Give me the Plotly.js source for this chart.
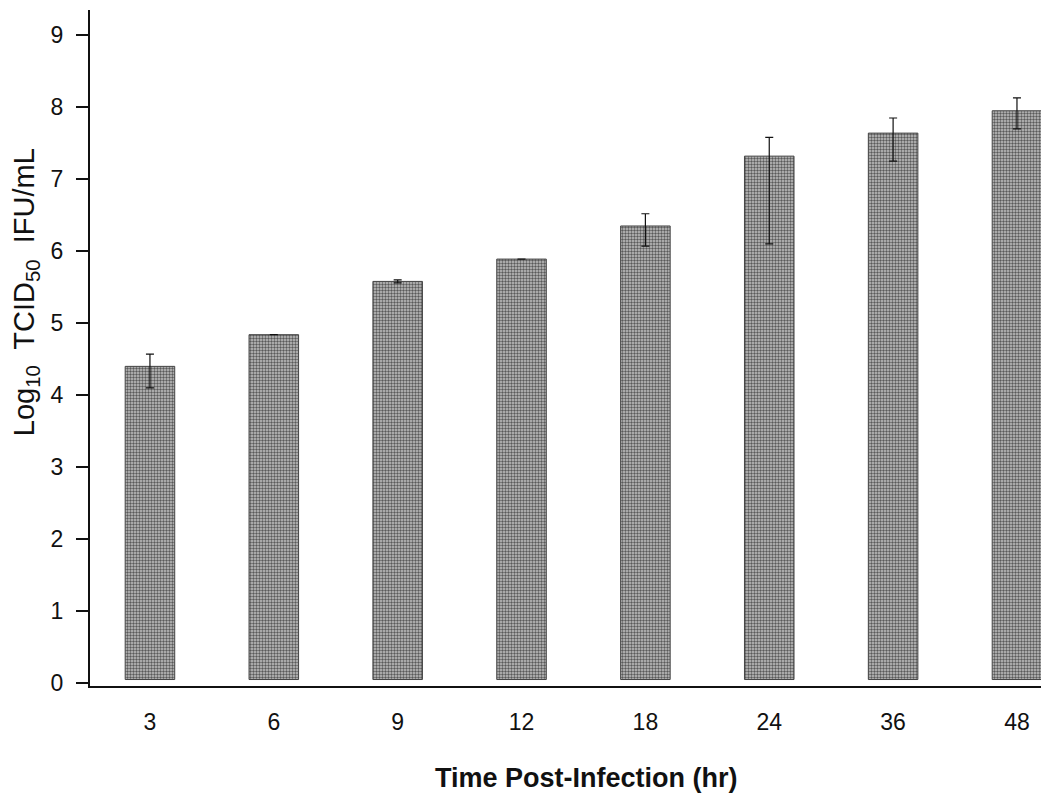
<!DOCTYPE html>
<html>
<head>
<meta charset="utf-8">
<script src="https://cdn.plot.ly/plotly-3.0.1.min.js"></script>
<style>
  html, body { margin: 0; padding: 0; background: #fff; overflow: hidden; }
  #chart { width: 1041px; height: 796px; }
</style>
</head>
<body>
<div id="chart"></div>
<script>
const categories = ['3', '6', '9', '12', '18', '24', '36', '48'];
const titerValues = [4.40, 4.84, 5.58, 5.89, 6.35, 7.32, 7.64, 7.95];
const errorPlus = [0.17, 0, 0.02, 0, 0.17, 0.26, 0.21, 0.18];
const errorMinus = [0.30, 0, 0.02, 0, 0.28, 1.22, 0.39, 0.25];
const yTickValues = [0, 1, 2, 3, 4, 5, 6, 7, 8, 9];
const xTitleText = '<b>Time Post-Infection (hr)</b>';
const yTitleText = 'Log<sub>10</sub>&nbsp; TCID<sub>50</sub>&nbsp; IFU/mL';

const trace = {
  type: 'bar',
  x: categories,
  y: titerValues.map(v => v - 0.05),
  base: 0.05,
  width: 0.4,
  marker: {
    color: '#adadad',
    line: { color: '#444', width: 1 },
    pattern: { shape: '.', fgcolor: '#5a5a5a', bgcolor: '#c4c4c4', size: 3, solidity: 0.5 }
  },
  error_y: {
    type: 'data',
    symmetric: false,
    array: errorPlus,
    arrayminus: errorMinus,
    color: '#111',
    thickness: 1.2,
    width: 4
  },
  hoverinfo: 'x+y'
};

const layout = {
  width: 1041,
  height: 796,
  margin: { l: 90, r: 0, t: 10, b: 110 },
  paper_bgcolor: '#fff',
  plot_bgcolor: '#fff',
  showlegend: false,
  font: { family: 'Liberation Sans, Arial, sans-serif', color: '#111' },
  xaxis: {
    type: 'category',
    range: [-0.484, 7.194],
    showline: true,
    linecolor: '#111',
    linewidth: 2,
    ticks: '',
    ticklabelstandoff: 14,
    tickfont: { family: 'Liberation Sans, Arial, sans-serif', size: 23, color: '#111' },
    showgrid: false,
    zeroline: false
  },
  yaxis: {
    range: [-0.04, 9.35],
    tickvals: yTickValues,
    ticktext: yTickValues.map(String),
    showline: true,
    linecolor: '#111',
    linewidth: 2,
    ticks: 'outside',
    ticklen: 12,
    tickwidth: 2,
    tickcolor: '#111',
    ticklabelstandoff: 8,
    tickfont: { family: 'Liberation Sans, Arial, sans-serif', size: 23, color: '#111' },
    showgrid: false,
    zeroline: false
  },
  annotations: [
    {
      text: xTitleText,
      xref: 'paper', yref: 'paper',
      x: 0.522, y: -0.136,
      xanchor: 'center', yanchor: 'middle',
      showarrow: false,
      font: { size: 27, color: '#111' }
    },
    {
      text: yTitleText,
      xref: 'paper', yref: 'paper',
      x: -0.067, y: 0.583,
      xanchor: 'center', yanchor: 'middle',
      textangle: -90,
      showarrow: false,
      font: { size: 29, color: '#111' }
    }
  ]
};

Plotly.newPlot('chart', [trace], layout, { staticPlot: true, displayModeBar: false });
</script>
</body>
</html>
